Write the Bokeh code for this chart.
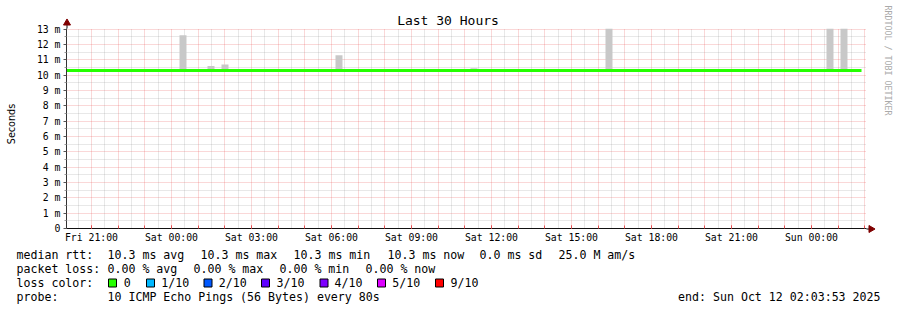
import math
import pandas as pd
from bokeh.plotting import figure
from bokeh.models import Range1d, FixedTicker
from bokeh.core.properties import value
from bokeh.embed import file_html
from bokeh.resources import INLINE

# ---------------- data ----------------
start_time = "2025-10-10 20:03:53"
end_time = "2025-10-12 02:03:53"

# median rtt (ms)
median_times = ["2025-10-10 20:03:53", "2025-10-12 01:52:40"]
median_rtt = [10.3, 10.3]

# smoke (min/max of the pings per bin, ms)
smoke_times = ["2025-10-11 00:26:00", "2025-10-11 01:29:00", "2025-10-11 02:00:30",
               "2025-10-11 06:17:00", "2025-10-11 11:20:45", "2025-10-11 16:24:30",
               "2025-10-12 00:41:45", "2025-10-12 01:13:15"]
smoke_min = [10.2, 10.2, 10.2, 10.2, 10.2, 10.2, 10.2, 10.2]
smoke_max = [12.6, 10.6, 10.7, 11.3, 10.45, 13.05, 13.05, 13.05]
smoke_bin_seconds = 945

y_tick_values = [0, 1, 2, 3, 4, 5, 6, 7, 8, 9, 10, 11, 12, 13]
y_tick_labels = ["0", "1 m", "2 m", "3 m", "4 m", "5 m", "6 m", "7 m", "8 m",
                 "9 m", "10 m", "11 m", "12 m", "13 m"]
x_tick_times = ["2025-10-10 21:00", "2025-10-11 00:00", "2025-10-11 03:00",
                "2025-10-11 06:00", "2025-10-11 09:00", "2025-10-11 12:00",
                "2025-10-11 15:00", "2025-10-11 18:00", "2025-10-11 21:00",
                "2025-10-12 00:00"]
x_tick_labels = ["Fri 21:00", "Sat 00:00", "Sat 03:00", "Sat 06:00", "Sat 09:00",
                 "Sat 12:00", "Sat 15:00", "Sat 18:00", "Sat 21:00", "Sun 00:00"]

loss_labels = ["0", "1/10", "2/10", "3/10", "4/10", "5/10", "9/10"]
loss_colors = ["#26ff00", "#00b8ff", "#0059ff", "#5e00ff", "#7e00ff", "#dd00ff", "#ff0000"]

stat_rtt = ["10.3 ms avg", "10.3 ms max", "10.3 ms min", "10.3 ms now", "0.0 ms sd", "25.0 M am/s"]
stat_loss = ["0.00 % avg", "0.00 % max", "0.00 % min", "0.00 % now"]
probe_text = "10 ICMP Echo Pings (56 Bytes) every 80s"
end_text = "end: Sun Oct 12 02:03:53 2025"
title_text = "Last 30 Hours"


def ms(s):
    return int(pd.Timestamp(s).value // 10**6)


MONO = value("DejaVu Sans Mono")
MGRID = "#e85050"
GRID = "#8f8f8f"

p = figure(width=897, height=310, title=None,
           x_range=Range1d(ms(start_time), ms(end_time)),
           y_range=Range1d(0, 13.04),
           x_axis_type="datetime",
           output_backend="svg", toolbar_location=None,
           min_border_left=66, min_border_right=31,
           min_border_top=28, min_border_bottom=82)
p.background_fill_color = "white"
p.border_fill_color = "white"
p.outline_line_color = None

# canvas-pixel helper ranges (for decorations outside the frame)
p.extra_x_ranges = {"cx": Range1d(66, 866)}
p.extra_y_ranges = {"cy": Range1d(228, 28)}

# ---------------- grids ----------------
hour_ticks = [int(t.value // 10**6) for t in pd.date_range("2025-10-10 21:00", "2025-10-12 02:00", freq="h")]
half_ticks = [int(t.value // 10**6) for t in pd.date_range("2025-10-10 20:30", "2025-10-12 01:30", freq="h")]
p.xgrid.ticker = FixedTicker(ticks=hour_ticks, minor_ticks=half_ticks)
p.ygrid.ticker = FixedTicker(ticks=y_tick_values, minor_ticks=[v + 0.5 for v in y_tick_values[:-1]])
for g in (p.xgrid, p.ygrid):
    g.grid_line_color = MGRID
    g.grid_line_alpha = 0.45
    g.grid_line_dash = "1 1"
    g.minor_grid_line_color = GRID
    g.minor_grid_line_alpha = 0.4
    g.minor_grid_line_dash = "1 1"

# ---------------- axes ----------------
x_ticks_ms = [ms(t) for t in x_tick_times]
p.xaxis.ticker = FixedTicker(ticks=x_ticks_ms, minor_ticks=hour_ticks)
p.xaxis.major_label_overrides = dict(zip(x_ticks_ms, x_tick_labels))
p.xaxis.axis_line_color = "#111111"
p.xaxis.major_tick_line_color = MGRID
p.xaxis.minor_tick_line_color = MGRID
p.xaxis.major_tick_in = 3
p.xaxis.major_tick_out = 0
p.xaxis.minor_tick_in = 3
p.xaxis.minor_tick_out = 0
p.xaxis.major_label_standoff = 3
p.xaxis.major_label_text_font = "DejaVu Sans Mono"
p.xaxis.major_label_text_font_size = "9.8px"
p.xaxis.major_label_text_color = "#000000"

p.yaxis.ticker = FixedTicker(ticks=y_tick_values, minor_ticks=[v + 0.5 for v in y_tick_values[:-1]])
p.yaxis.major_label_overrides = dict(zip(y_tick_values, y_tick_labels))
p.yaxis.axis_line_color = "#333333"
p.yaxis.major_tick_line_color = "#555555"
p.yaxis.minor_tick_line_color = "#999999"
p.yaxis.major_tick_in = 0
p.yaxis.major_tick_out = 3
p.yaxis.minor_tick_in = 0
p.yaxis.minor_tick_out = 2
p.yaxis.major_label_standoff = 3
p.yaxis.major_label_text_font = "DejaVu Sans Mono"
p.yaxis.major_label_text_font_size = "9.8px"
p.yaxis.major_label_text_color = "#000000"

# ---------------- data glyphs ----------------
p.vbar(x=[ms(t) for t in smoke_times], width=smoke_bin_seconds * 1000,
       bottom=smoke_min, top=smoke_max,
       fill_color="#c8c8c8", line_color=None)
p.line(x=[ms(t) for t in median_times], y=median_rtt,
       line_color="#26ff00", line_width=3)

# ---------------- decorations (canvas pixels) ----------------
deco = dict(x_range_name="cx", y_range_name="cy", level="overlay")

# axis extensions + arrows
p.segment(x0=[66.5, 866], y0=[28, 228.5], x1=[66.5, 869], y1=[23, 228.5],
          line_color="#111111", line_width=1, **deco)
p.scatter(x=[66.5], y=[22.5], marker="triangle", size=7,
          fill_color="#7f0000", line_color="#7f0000", **deco)
p.scatter(x=[870.5], y=[228.5], marker="triangle", size=7, angle=-math.pi / 2,
          fill_color="#7f0000", line_color="#7f0000", **deco)

# title
p.text(x=[447.5], y=[19.5], text=[title_text], text_font=MONO,
       text_font_size=value("13px"), text_align="center",
       text_baseline="alphabetic", text_color="#000000", **deco)

# y axis label
p.text(x=[10.5], y=[123.5], text=["Seconds"], angle=math.pi / 2,
       text_font=value("DejaVu Sans"), text_font_size=value("9.6px"),
       text_align="center", text_baseline="middle", text_color="#000000", **deco)

# watermark
p.text(x=[887.5], y=[60], text=["RRDTOOL / TOBI OETIKER"], angle=-math.pi / 2,
       text_font=MONO, text_font_size=value("8.3px"), text_align="center",
       text_baseline="middle", text_color="#aaaaaa", **deco)

leg = dict(text_font=MONO, text_font_size=value("11.6px"), text_align="left",
           text_baseline="alphabetic", text_color="#000000", **deco)

# row 1: median rtt
p.text(x=[16, 107, 200, 293, 387, 479, 558], y=[254] * 7,
       text=["median rtt:"] + stat_rtt, **leg)
# row 2: packet loss
p.text(x=[16, 107, 193, 279, 365], y=[268] * 5,
       text=["packet loss:"] + stat_loss, **leg)
# row 3: loss colours
sq_x = [112, 150, 207.5, 265, 323.5, 381, 439]
lab_x = [123.3, 160.7, 218.3, 276, 334, 391.7, 450]
p.text(x=[16], y=[282], text=["loss color:"], **leg)
p.rect(x=sq_x, y=[282.5] * len(sq_x), width=8, height=8,
       fill_color=loss_colors, line_color="#000000", line_width=1, **deco)
p.text(x=lab_x, y=[282] * len(lab_x), text=loss_labels, **leg)
# row 4: probe / end
p.text(x=[16, 107], y=[296, 296], text=["probe:", probe_text], **leg)
p.text(x=[880], y=[296], text=[end_text], text_font=MONO,
       text_font_size=value("11.6px"), text_align="right",
       text_baseline="alphabetic", text_color="#000000", **deco)

open("out.html", "w").write(file_html(p, INLINE))
